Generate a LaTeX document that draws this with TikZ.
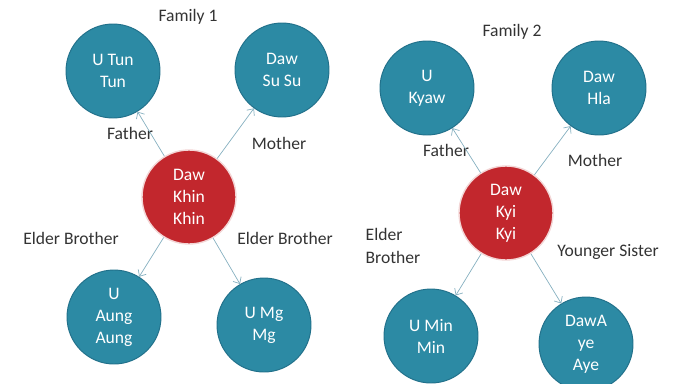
\documentclass[tikz,border=0pt]{standalone}
\usepackage{fontspec}
\setmainfont{Carlito}
\usepackage{tikz}
\usetikzlibrary{arrows.meta}
\definecolor{personfill}{HTML}{2C8AA4}
\definecolor{personline}{HTML}{21708A}
\definecolor{selffill}{HTML}{C2272D}
\definecolor{selfline}{HTML}{F3D6D6}
\definecolor{linkline}{HTML}{86B0C0}
\definecolor{labeltext}{HTML}{333333}

\begin{document}
\begin{tikzpicture}[x=0.03cm,y=-0.03cm]
    % `person' is used for the relatives (blue circles).
    % `self' is used for the person in the middle (red circle).
    % `relation' is used for the words beside the arrows.
    \tikzstyle{person} = [circle,draw=personline,line width=0.8pt,fill=personfill,
                          text=white,minimum size=2.82cm,inner sep=0pt,align=center,
                          font=\fontsize{15}{18.8}\selectfont]
    \tikzstyle{self} = [person,draw=selfline,line width=1.2pt,fill=selffill]
    \tikzstyle{relation} = [text=labeltext,font=\fontsize{15}{19}\selectfont,inner sep=0pt]
    \tikzstyle{link} = [linkline,line width=0.6pt,-{Straight Barb[length=4.5pt,width=8pt]}]
    %
    \useasboundingbox (0,0) rectangle (675,383);
    % Family 1.
    \node[relation] (title0) at (188,17) {Family 1};
    \node[person] (tun)  at (113,71)  {U Tun\\Tun};
    \node[person] (susu) at (282,70)  {Daw\\Su Su};
    \node[self]   (khin) at (189,197) {Daw\\Khin\\Khin};
    \node[person] (aung) at (114,317) {U\\Aung\\Aung};
    \node[person] (mg)   at (264,325) {U Mg\\Mg};
    %
    \node[relation] (r0) at (130,133) {Father};
    \node[relation] (r1) at (279,143) {Mother};
    \node[relation] (r2) at (71,238)  {Elder Brother};
    \node[relation] (r3) at (285,238) {Elder Brother};
    % Family 2.
    \node[relation] (title1) at (512,32) {Family 2};
    \node[person] (kyaw) at (427,88)  {U\\Kyaw};
    \node[person] (hla)  at (599,88)  {Daw\\Hla};
    \node[self]   (kyi)  at (506,213) {Daw\\Kyi\\Kyi};
    \node[person] (min)  at (431,336) {U Min\\Min};
    \node[person] (aye)  at (586,344) {DawA\\ye\\Aye};
    %
    \node[relation] (r4) at (446,150) {Father};
    \node[relation] (r5) at (595,160) {Mother};
    \node[relation,align=left] (r6) at (393,246) {Elder\\Brother};
    \node[relation] (r7) at (608,252) {Younger Sister};
    % Draw arrows.
    \draw[link] (khin) -- (tun);
    \draw[link] (khin) -- (susu);
    \draw[link] (khin) -- (aung);
    \draw[link] (khin) -- (mg);
    \draw[link] (kyi) -- (kyaw);
    \draw[link] (kyi) -- (hla);
    \draw[link] (kyi) -- (min);
    \draw[link] (kyi) -- (aye);
\end{tikzpicture}
\end{document}
